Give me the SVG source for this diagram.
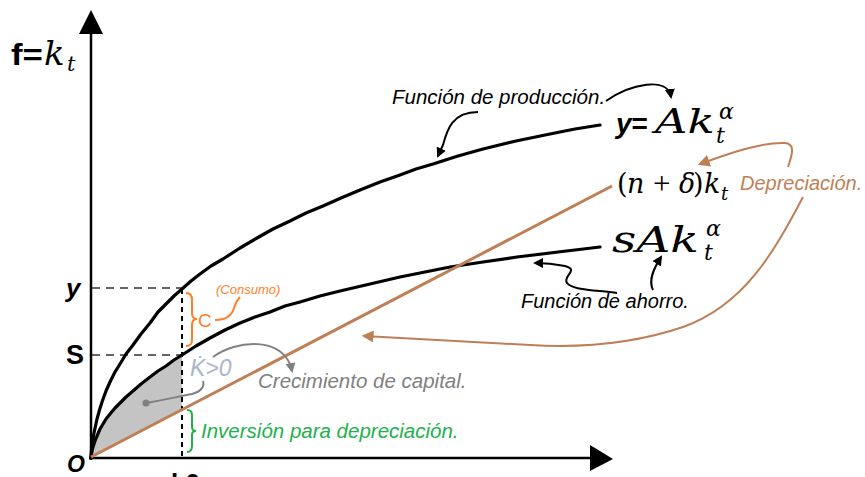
<svg xmlns="http://www.w3.org/2000/svg" width="865" height="477" viewBox="0 0 865 477">
<style>
.axis{stroke:#000;stroke-width:2.5;fill:none}
.curve{stroke:#000;stroke-width:3.2;fill:none;stroke-linejoin:round;stroke-linecap:round}
.dep{stroke:#bf7f56;stroke-width:3;fill:none}
.dash{stroke:#333;stroke-width:1.5;stroke-dasharray:8,6;fill:none}
.vdash{stroke:#000;stroke-width:2;stroke-dasharray:5,4;fill:none}
.ann{stroke:#000;stroke-width:2;fill:none}
.annb{stroke:#bf7f56;stroke-width:2;fill:none}
.anng{stroke:#808080;stroke-width:2;fill:none}
.lbl{font-family:"Liberation Sans",Arial,sans-serif;font-style:italic}
.math{font-family:"DejaVu Serif","Liberation Serif",serif;font-style:italic}
.up{font-style:normal}
.sans{font-family:"Liberation Sans",Arial,sans-serif}
</style>
<defs>
<marker id="ab" viewBox="0 0 10 10" refX="8" refY="5" markerWidth="5" markerHeight="5" orient="auto" markerUnits="strokeWidth"><path d="M0,0 L10,5 L0,10 z" fill="#000"/></marker>
<marker id="abr" viewBox="0 0 10 10" refX="8" refY="5" markerWidth="6" markerHeight="6" orient="auto" markerUnits="strokeWidth"><path d="M0,0 L10,5 L0,10 z" fill="#bf7f56"/></marker>
<marker id="ag" viewBox="0 0 10 10" refX="8" refY="5" markerWidth="5" markerHeight="5" orient="auto" markerUnits="strokeWidth"><path d="M0,0 L10,5 L0,10 z" fill="#808080"/></marker>
</defs>

<g id="axes">
<line class="axis" x1="91" y1="460" x2="91" y2="30"/>
<polygon points="91,10 79,34 103,34" fill="#000"/>
<line class="axis" x1="89" y1="458" x2="592" y2="458"/>
<polygon points="613,459 590,445 590,471" fill="#000"/>
</g>

<g id="shade">
<polygon points="91,457 93,447 97,435 103,424 110,414 120,403 133,391 150,377 166,366 182,355 182,410" fill="#c4c4c4"/>
</g>

<g id="guides">
<line class="dash" x1="92" y1="288" x2="182" y2="288"/>
<line class="dash" x1="92" y1="355" x2="182" y2="355"/>
<line class="vdash" x1="182" y1="289" x2="182" y2="458"/>
</g>

<g id="production">
<polyline class="curve" points="91,457 91.5,450 92,445 93,439 94,433 95.5,426 97,419 99.5,410 102,402 106,391 110,382 115,372 120,364 126,354 133,345 141,334 150,323 158,312 166,304 174,296 182,289 191,281 200,274 211,266 223,259 240,248 257,238 273,229 290,221 306,213 323,206 341,198 360,190 380,182 400,175 416,169 433,164 458,156 483,149 516,141 550,134 575,129 600,125"/>
</g>
<g id="savings">
<polyline class="curve" points="91,457 92,451 93,447 95,441 97,436 100,429 103,424 106,419 110,414 115,408 120,403 126,397 133,391 141,384 150,377 158,371 166,366 174,360 182,355 196,346 210,338 225,330 240,323 255,317 270,312 285,306 300,302 320,296 340,291 370,284 400,277 425,272 450,267 483,262 517,257 558,252 600,247"/>
</g>
<g id="depreciation">
<line class="dep" x1="91" y1="457" x2="612" y2="186"/>
</g>

<g id="axis-labels">
<text class="sans" transform="translate(11,65) scale(1.2,1)" font-size="29" font-weight="bold">f=</text>
<text class="math" x="44" y="65" font-size="34">k</text>
<text class="math" x="67" y="71" font-size="21">t</text>
<text class="sans" x="66" y="297" font-size="26" font-weight="bold" font-style="italic">y</text>
<text class="sans" x="66" y="364" font-size="27" font-weight="bold">S</text>
<text class="sans" x="67" y="472" font-size="23" font-weight="bold" font-style="italic">O</text>
<text class="sans" x="171" y="492" font-size="26" font-weight="bold">k0</text>
</g>

<g id="label-production">
<text class="lbl" x="392" y="104" font-size="20.5">Función de producción.</text>
<text class="sans" x="616" y="133" font-size="28" font-weight="bold" font-style="italic">y<tspan font-style="normal">=</tspan></text>
<text class="math" transform="translate(655,133) scale(1.32,1)" font-size="34">Ak</text>
<text class="math" x="719" y="119" font-size="22">α</text>
<text class="math" x="716" y="143" font-size="22">t</text>
</g>

<g id="label-dep">
<text class="math up" x="617" y="193" font-size="27">(</text>
<text class="math" x="627" y="193" font-size="27">n</text>
<text x="653" y="194" font-size="31" font-family="Liberation Serif,serif">+</text>
<text class="math" x="679" y="193" font-size="27">δ</text>
<text class="math up" x="693" y="193" font-size="27">)</text>
<text class="math" x="704" y="193" font-size="27">k</text>
<text class="math" x="721" y="200" font-size="18">t</text>
<text class="lbl" x="740" y="190" font-size="20" fill="#bf7f56">Depreciación.</text>
</g>

<g id="label-savings">
<text class="math" transform="translate(612,252) scale(1.35,1)" font-size="35">sAk</text>
<text class="math" x="706" y="236" font-size="22">α</text>
<text class="math" x="704" y="260" font-size="22">t</text>
<text class="lbl" x="521" y="308" font-size="20">Función de ahorro.</text>
</g>

<g id="label-consumo">
<text class="lbl" x="216" y="294" font-size="13" fill="#ff7f27">(Consumo)</text>
<text class="sans" x="198" y="327" font-size="19" fill="#ff7f27">C</text>
<path d="M186,293 C191,293 192,296 192,300 L192,313 C192,317 193,319 197,319 C193,319 192,321 192,325 L192,340 C192,344 191,346 186,346" stroke="#ff7f27" stroke-width="2" fill="none"/>
</g>

<g id="label-growth">
<text class="lbl" x="190" y="376" font-size="23" fill="#a9b6c8">K̇&gt;0</text>
<text class="lbl" x="258" y="388" font-size="20.5" fill="#808080">Crecimiento de capital.</text>
<circle cx="146" cy="403" r="3.5" fill="#808080"/>
</g>

<g id="label-inversion">
<text class="lbl" x="201" y="438" font-size="20.5" fill="#22b14c">Inversión para depreciación.</text>
<path d="M187,410 C192,410 192,413 192,417 L192,427 C192,430 193,431 196,431 C193,431 192,432 192,435 L192,446 C192,450 191,452 187,452" stroke="#22b14c" stroke-width="2" fill="none"/>
</g>

<g id="connectors">
<path class="ann" d="M478,112 C452,112 447,130 443,145 L438,156" marker-end="url(#ab)"/>
<path class="ann" d="M606,101 C630,84 668,76 671,97" marker-end="url(#ab)"/>
<path class="ann" d="M617,293 C595,290 572,290 567,283 C562,276 580,270 565,266 C555,264 545,263 535,263" marker-end="url(#ab)"/>
<path class="ann" d="M653,290 C648,280 654,268 661,257" marker-end="url(#ab)"/>
<path class="annb" d="M788,167 C792,155 796,144 785,143 C760,142 725,155 700,164" marker-end="url(#abr)"/>
<path class="annb" d="M803,197 C775,250 745,305 683,327 C630,345 580,348 530,345 C460,341 400,338 364,336" marker-end="url(#abr)"/>
<path d="M215,320 C226,320 232,315 234,308 C236,302 238,299 240,297" stroke="#ff7f27" stroke-width="2" fill="none"/>
<path class="anng" d="M146,403 C165,400 180,396 192,394 C200,392 205,387 203,381"/>
<path class="anng" d="M213,357 C235,340 285,335 292,371" marker-end="url(#ag)"/>
</g>
</svg>
